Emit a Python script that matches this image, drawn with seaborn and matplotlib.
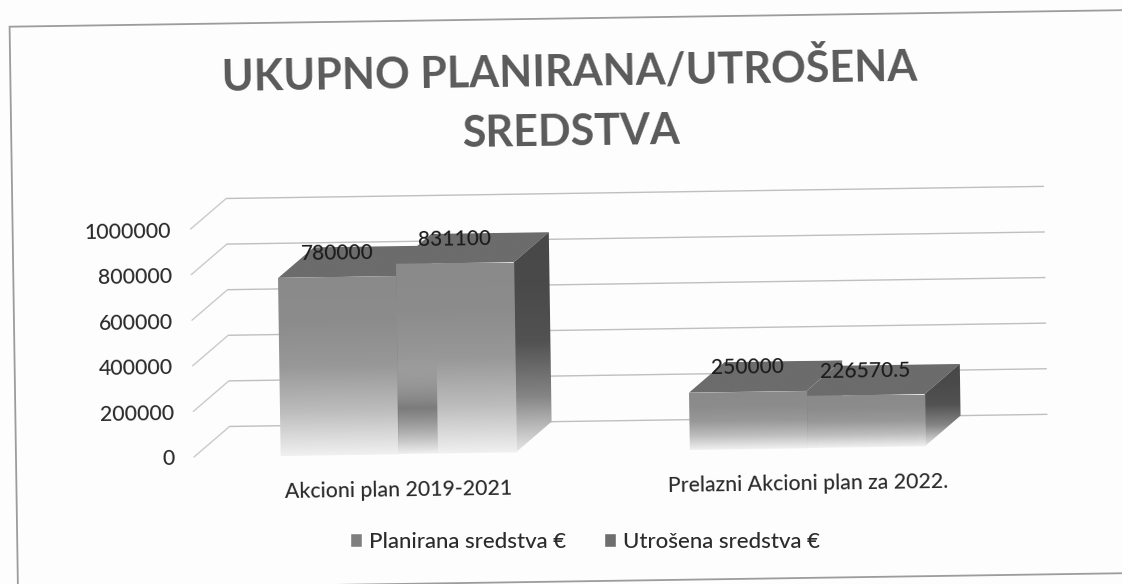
import pandas as pd
import seaborn as sns
import matplotlib.pyplot as plt
import numpy as np
from matplotlib.colors import LinearSegmentedColormap
from matplotlib.patches import Polygon, Rectangle
from matplotlib.transforms import Affine2D

TITLE = "UKUPNO PLANIRANA/UTROŠENA\nSREDSTVA"
CATEGORIES = ["Akcioni plan 2019-2021", "Prelazni Akcioni plan za 2022."]
SERIES = ["Planirana sredstva €", "Utrošena sredstva €"]
PLANNED = [780000, 250000]
SPENT = [831100, 226570.5]
VALUE_TICKS = [0, 200000, 400000, 600000, 800000, 1000000]
VALUE_TICK_LABELS = ["0", "200000", "400000", "600000", "800000", "1000000"]
LABELS = [["780000", "250000"], ["831100", "226570.5"]]

W, H = 1122, 584
DEPTH_X, DEPTH_Y = 36, 30
TILT = 0.85
TEXT = "#2b2b2b"

front_cmap = LinearSegmentedColormap.from_list("front", ["#f0f0f0", "#bcbcbc", "#989898", "#8c8c8c", "#8a8a8a"])
side_cmap = LinearSegmentedColormap.from_list("side", ["#e6e6e6", "#858585", "#525252", "#4a4a4a", "#484848"])
top_cmap = LinearSegmentedColormap.from_list("top", ["#6c6c6c", "#6c6c6c"])
shadow_cmap = LinearSegmentedColormap.from_list(
	"shadow", [(0.42, 0.42, 0.42, 0.0), (0.42, 0.42, 0.42, 0.8), (0.5, 0.5, 0.5, 0.0)])


def gradient(ax, corners, cmap, clip, zorder, transform):
	# vertical ramp over the bounding box of corners, clipped to the face
	xs = [c[0] for c in corners]
	ys = [c[1] for c in corners]
	ramp = np.linspace(0, 1, 256).reshape(-1, 1)
	im = ax.imshow(ramp, cmap=cmap, origin="lower", aspect="auto", zorder=zorder,
		extent=(min(xs), max(xs), min(ys), max(ys)), transform=transform)
	im.set_clip_path(clip)


def draw_bar(ax, bar, page, z, bar_side_cmap):
	x0, x1 = bar.get_x(), bar.get_x() + bar.get_width()
	top = bar.get_height()
	fl, ft = ax.transData.transform([(x0, 0), (x0, top)])
	fr, tr = ax.transData.transform([(x1, 0), (x1, top)])
	shift = np.array([DEPTH_X, DEPTH_Y])

	top_face = [ft, tr, tr + shift, ft + shift]
	side_face = [fr, fr + shift, tr + shift, tr]
	for corners, cmap, dz in ((top_face, top_cmap, 0), (side_face, bar_side_cmap, 1)):
		poly = Polygon(corners, closed=True, facecolor="none", edgecolor="none", transform=page)
		ax.add_patch(poly)
		gradient(ax, corners, cmap, poly, z + dz, page)

	bar.set_transform(ax.transData + page)
	bar.set_facecolor("none")
	bar.set_edgecolor("none")
	gradient(ax, [(x0, 0), (x1, top)], front_cmap, bar, z + 2, ax.transData + page)


def main():
	sns.set_theme(style="white")
	plt.rcParams["font.family"] = ["Lato", "DejaVu Sans"]
	plt.rcParams["font.weight"] = "medium"

	df = pd.DataFrame({
		"plan": CATEGORIES * 2,
		"sredstva": PLANNED + SPENT,
		"serija": [SERIES[0]] * 2 + [SERIES[1]] * 2,
	})

	fig = plt.figure(figsize=(W / 100, H / 100), dpi=100, facecolor="#fdfdfd")
	ax = fig.add_axes([194 / W, 1 - 457 / H, 818 / W, 228 / H])
	ax.patch.set_alpha(0)
	sns.barplot(data=df, x="plan", y="sredstva", hue="serija", width=0.575, gap=0,
		palette=["#7f7f7f", "#6e6e6e"], ax=ax, saturation=1)
	ax.set_xlim(-0.5, 1.5)
	ax.set_ylim(0, VALUE_TICKS[-1])
	ax.autoscale(False)
	ax.set(xlabel="", ylabel="")
	sns.despine(ax=ax, left=True, bottom=True, right=True, top=True)

	# whole sheet sits slightly crooked in the scan
	page = Affine2D().rotate_deg_around(194, H - 457, TILT)
	data_page = ax.transData + page
	back = ax.transData + Affine2D().translate(DEPTH_X, DEPTH_Y) + page

	ax.hlines(VALUE_TICKS, -0.5, 1.5, color="#bfbfbf", lw=1.0, transform=back, zorder=1, clip_on=False)
	left = ax.transData.transform((-0.5, 0))[0]
	for v in VALUE_TICKS:
		y = ax.transData.transform((0, v))[1]
		ax.plot([left, left + DEPTH_X], [y, y + DEPTH_Y], color="#cacaca", lw=1.0,
			transform=page, zorder=1, clip_on=False)

	z = 3
	for i, container in enumerate(ax.containers):
		for bar in container:
			# side of the inner bar only peeks out above its neighbour, same tone as the tops
			draw_bar(ax, bar, page, z, side_cmap if i == 1 else top_cmap)
			z += 3

	# dark patch showing through the left edge of the taller bar
	tall = ax.containers[1][0]
	shadow = [(tall.get_x(), 0), (tall.get_x() + tall.get_width() / 3.0, 400000)]
	gradient(ax, shadow, shadow_cmap, tall, z, data_page)

	ax.set_yticks(VALUE_TICKS, VALUE_TICK_LABELS)
	ax.tick_params(axis="both", length=0, labelsize=15.3, labelcolor=TEXT)
	ax.tick_params(axis="y", pad=14)
	ax.tick_params(axis="x", pad=19)
	for lab in ax.get_yticklabels() + ax.get_xticklabels():
		lab.set_rotation(TILT)
		lab.set_rotation_mode("anchor")
		lab.set_transform(lab.get_transform() + page)

	for container, labels in zip(ax.containers, LABELS):
		for ann in ax.bar_label(container, labels=labels, padding=10, fontsize=15, color="#1c1c1c", zorder=40):
			ann.xycoords = data_page
			ann.set_rotation(TILT)
			ann.set_rotation_mode("anchor")

	handles, names = ax.get_legend_handles_labels()
	ax.legend(handles, names, loc="center", bbox_to_anchor=(585 / W, 1 - 542 / H),
		bbox_transform=fig.transFigure, ncol=2, frameon=False, fontsize=16,
		labelcolor=TEXT, handlelength=0.55, handleheight=0.55, handletextpad=0.3, columnspacing=1.7)

	fig.text(570 / W, 1 - 101 / H, TITLE, ha="center", va="center", ma="center", fontsize=31,
		color="#5a5a5a", fontweight="bold", linespacing=1.6, rotation=TILT, rotation_mode="anchor")

	fig.add_artist(Rectangle((16, -3), 1300, 563, facecolor="none", edgecolor="#9c9c9c", lw=1.3,
		transform=page))

	fig.savefig("out.png", dpi=100, facecolor=fig.get_facecolor())
	plt.close(fig)


if __name__ == "__main__":
	main()
